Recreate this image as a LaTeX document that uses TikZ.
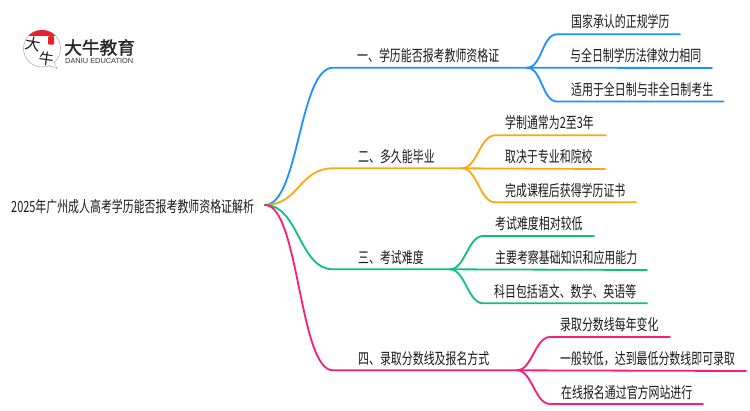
\documentclass[tikz,border=0pt]{standalone}
\usepackage{fontspec}
\setmainfont[FakeStretch=0.705]{Noto Sans CJK SC}
\newfontfamily\logofont{Noto Sans CJK SC}[FakeBold=1.5]
\newfontfamily\sealfont{Noto Sans CJK SC}
\newfontfamily\latinfont{Liberation Sans}

\tikzset{
  branch/.style = {line width=1.8pt, line cap=round},
  label/.style = {anchor=west, inner sep=0pt, yshift=-0.7pt, font=\fontsize{15.5}{15.5}\selectfont, text=black!90},
}
\definecolor{blueline}{HTML}{1E90FF}
\definecolor{orangeline}{HTML}{F9A90F}
\definecolor{greenline}{HTML}{0FC078}
\definecolor{pinkline}{HTML}{FF1A78}
\definecolor{logored}{HTML}{E8222A}

\begin{document}
\begin{tikzpicture}[x = 1pt, y = -1pt]
\useasboundingbox (0,0) rectangle (750,410);

% logo
\coordinate (bubble) at (42,48.5);
\draw[black!30, line width=0.6pt, fill=white] (49,65.8) -- (57,68.5) -- (54,62);
\draw[black!30, line width=0.6pt] (bubble) circle[radius=18.5pt];
\fill[white] (48,64.5) -- (56,67.3) -- (52,60) -- cycle;
\begin{scope}
\clip (bubble) circle[radius=18.5pt];
\fill[logored] (22,28) rectangle (62,35.5);
\end{scope}
\fill[logored, rounded corners=1pt] (48,36) rectangle (54,44.5);
\node[inner sep=0pt, rotate=-10, font=\sealfont\fontsize{15.5}{16}\selectfont, text=black!90] (dalogo) at (33,44) {大};
\node[inner sep=0pt, rotate=-8, font=\sealfont\fontsize{15}{15}\selectfont, text=black!90] (niulogo) at (47,59) {牛};
\node[inner sep=0pt, font=\logofont\fontsize{17.7}{18}\selectfont, text=black!85, anchor=west] (brand) at (64,47.5) {大牛教育};
\node[inner sep=0pt, font=\latinfont\fontsize{7.4}{7}\selectfont, text=black!80, anchor=west] (branden) at (65,60.5) {DANIU EDUCATION};

% root and main branches
\node[label] (root) at (11,206) {2025年广州成人高考学历能否报考教师资格证解析};
\coordinate (R) at (265,205);
\coordinate (A) at (333,67.7);
\coordinate (Aend) at (527,67.7);
\coordinate (B) at (333,168.3);
\coordinate (Bend) at (462,168.3);
\coordinate (C) at (333,269.3);
\coordinate (Cend) at (450,269.3);
\coordinate (D) at (333,370.3);
\coordinate (Dend) at (517,370.3);

\draw[branch, blueline] (R) .. controls +(34,0) and +(-34,0) .. (A) -- (Aend);
\draw[branch, orangeline] (R) .. controls +(34,0) and +(-34,0) .. (B) -- (Bend);
\draw[branch, greenline] (R) .. controls +(34,0) and +(-34,0) .. (C) -- (Cend);
\draw[branch, pinkline] (R) .. controls +(34,0) and +(-34,0) .. (D) -- (Dend);

\node[label] (a) at (357,55) {一、学历能否报考教师资格证};
\node[label] (b) at (358,156) {二、多久能毕业};
\node[label] (c) at (358,257) {三、考试难度};
\node[label] (d) at (358,358) {四、录取分数线及报名方式};

% first group
\coordinate (A1) at (557,34.3);
\coordinate (A1end) at (680,34.3);
\coordinate (A2end) at (712,68);
\coordinate (A3) at (557,101.5);
\coordinate (A3end) at (723.5,101.5);
\draw[branch, blueline] (Aend) .. controls +(15,0) and +(-15,0) .. (A1) -- (A1end);
\draw[branch, blueline] (Aend) -- (A2end);
\draw[branch, blueline] (Aend) .. controls +(15,0) and +(-15,0) .. (A3) -- (A3end);
\node[label] (a1) at (571,21) {国家承认的正规学历};
\node[label] (a2) at (570,55) {与全日制学历法律效力相同};
\node[label] (a3) at (571,89) {适用于全日制与非全日制考生};

% second group
\coordinate (B1) at (495,135.3);
\coordinate (B1end) at (606,135.3);
\coordinate (B2end) at (605,169);
\coordinate (B3) at (495,202.3);
\coordinate (B3end) at (636,202.3);
\draw[branch, orangeline] (Bend) .. controls +(15,0) and +(-15,0) .. (B1) -- (B1end);
\draw[branch, orangeline] (Bend) -- (B2end);
\draw[branch, orangeline] (Bend) .. controls +(15,0) and +(-15,0) .. (B3) -- (B3end);
\node[label] (b1) at (505,122) {学制通常为2至3年};
\node[label] (b2) at (505,156) {取决于专业和院校};
\node[label] (b3) at (505,190) {完成课程后获得学历证书};

% third group
\coordinate (C1) at (483,236);
\coordinate (C1end) at (594,236);
\coordinate (C2end) at (647,270);
\coordinate (C3) at (483,303.3);
\coordinate (C3end) at (647,303.3);
\draw[branch, greenline] (Cend) .. controls +(15,0) and +(-15,0) .. (C1) -- (C1end);
\draw[branch, greenline] (Cend) -- (C2end);
\draw[branch, greenline] (Cend) .. controls +(15,0) and +(-15,0) .. (C3) -- (C3end);
\node[label] (c1) at (495,223) {考试难度相对较低};
\node[label] (c2) at (495,257) {主要考察基础知识和应用能力};
\node[label] (c3) at (494,291) {科目包括语文、数学、英语等};

% fourth group
\coordinate (D1) at (550,337);
\coordinate (D1end) at (670,337);
\coordinate (D2end) at (746,371);
\coordinate (D3) at (550,404);
\coordinate (D3end) at (703,404);
\draw[branch, pinkline] (Dend) .. controls +(15,0) and +(-15,0) .. (D1) -- (D1end);
\draw[branch, pinkline] (Dend) -- (D2end);
\draw[branch, pinkline] (Dend) .. controls +(15,0) and +(-15,0) .. (D3) -- (D3end);
\node[label] (d1) at (560,324) {录取分数线每年变化};
\node[label] (d2) at (560,358) {一般较低，达到最低分数线即可录取};
\node[label] (d3) at (561,392) {在线报名通过官方网站进行};
\end{tikzpicture}
\end{document}
